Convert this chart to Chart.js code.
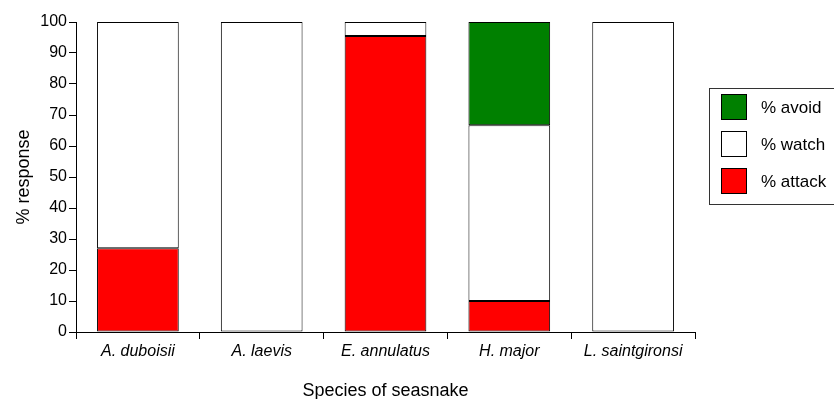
<!DOCTYPE html>
<html>
<head>
<meta charset="utf-8">
<script src="https://cdn.jsdelivr.net/npm/chart.js@4"></script>
<style>
  html, body { margin: 0; padding: 0; background: #fff; }
  #wrap { width: 834px; height: 399px; }
</style>
</head>
<body>
<div id="wrap"><canvas id="graficoSerpentes" width="834" height="399"></canvas></div>
<script>
const species = ['A. duboisii', 'A. laevis', 'E. annulatus', 'H. major', 'L. saintgironsi'];
const attack = [27, 0, 95.5, 10, 0];
const watch = [73, 100, 4.5, 56.7, 100];
const avoid = [0, 0, 0, 33.3, 0];
const yTicks = [0, 10, 20, 30, 40, 50, 60, 70, 80, 90, 100];

const FONT = '"Liberation Sans", Arial, sans-serif';

// legend drawn by hand: boxed, reversed order, clipped at the right edge
const boxedLegend = {
    id: 'boxedLegend',
    afterDraw(chart) {
        const c = chart.ctx;
        const area = chart.chartArea;
        const left = area.right + 14;
        const top = area.top + 66;
        const rowH = 37;
        const items = chart.data.datasets.slice().reverse();
        c.save();
        c.strokeStyle = '#333';
        c.lineWidth = 1;
        c.strokeRect(left + 0.5, top + 0.5, 160, items.length * rowH + 5);
        c.font = '17px ' + FONT;
        c.textBaseline = 'middle';
        items.forEach((ds, i) => {
            const y = top + 6 + i * rowH;
            c.fillStyle = ds.backgroundColor;
            c.fillRect(left + 12, y, 26, 26);
            c.strokeStyle = '#000';
            c.strokeRect(left + 12.5, y + 0.5, 25, 25);
            c.fillStyle = '#000';
            c.fillText(ds.label, left + 52, y + 14);
        });
        c.restore();
    }
};

const ctx = document.getElementById('graficoSerpentes').getContext('2d');
const graficoSerpentes = new Chart(ctx, {
    type: 'bar',

    data: {
        labels: species,
        datasets: [
            { label: '% attack', data: attack, backgroundColor: '#FF0000' },
            { label: '% watch', data: watch, backgroundColor: '#FFFFFF' },
            { label: '% avoid', data: avoid, backgroundColor: '#008000' }
        ].map(ds => Object.assign(ds, {
            borderColor: '#000',
            borderWidth: 1,
            borderSkipped: false,
            barPercentage: 0.66,
            categoryPercentage: 1
        }))
    },

    options: {
        responsive: false,
        animation: false,
        layout: {
            padding: { top: 22, right: 139, bottom: 0, left: 10 }
        },
        plugins: {
            legend: { display: false },
            tooltip: { enabled: false }
        },
        scales: {
            x: {
                stacked: true,
                afterFit(scale) { scale.height = 67; },
                grid: {
                    display: true,
                    drawOnChartArea: false,
                    drawTicks: true,
                    tickLength: 7,
                    color: '#000'
                },
                border: { display: true, color: '#000', width: 1 },
                ticks: {
                    color: '#000',
                    padding: 3,
                    font: { family: FONT, size: 16, style: 'italic' }
                },
                title: {
                    display: true,
                    text: 'Species of seasnake',
                    color: '#000',
                    padding: { top: 0, bottom: -3 },
                    font: { family: FONT, size: 18 }
                }
            },
            y: {
                stacked: true,
                min: 0,
                max: 100,
                afterFit(scale) { scale.width = 66; },
                afterBuildTicks(scale) {
                    scale.ticks = yTicks.map(v => ({ value: v }));
                },
                grid: {
                    display: true,
                    drawOnChartArea: false,
                    drawTicks: true,
                    tickLength: 7,
                    color: '#000'
                },
                border: { display: true, color: '#000', width: 1 },
                ticks: {
                    color: '#000',
                    padding: 2,
                    font: { family: FONT, size: 16 }
                },
                title: {
                    display: true,
                    text: '% response',
                    color: '#000',
                    padding: { top: 3, bottom: 0 },
                    font: { family: FONT, size: 18 }
                }
            }
        }
    },
    plugins: [boxedLegend]
});
</script>
</body>
</html>
